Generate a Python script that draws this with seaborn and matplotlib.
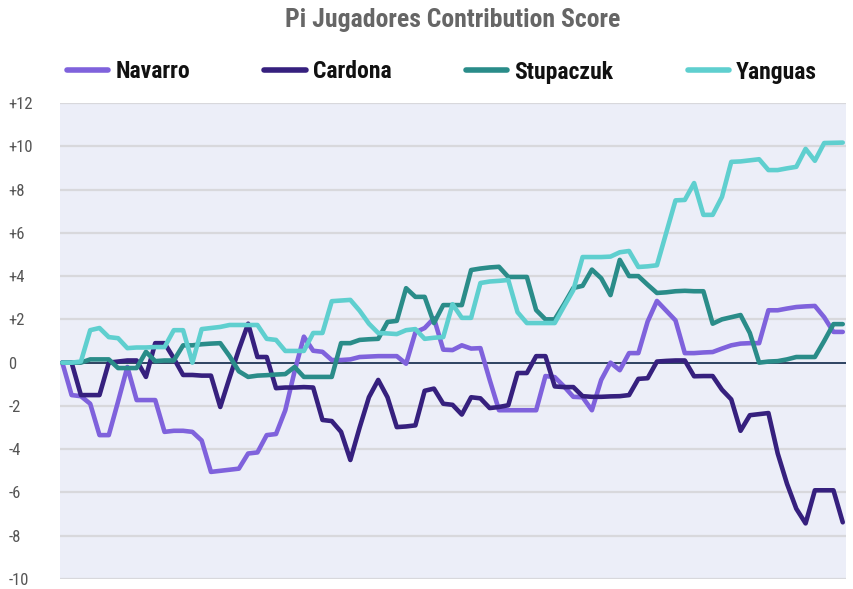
import matplotlib
matplotlib.use("Agg")
import matplotlib.pyplot as plt
import seaborn as sns
import pandas as pd
from matplotlib.lines import Line2D
from matplotlib import font_manager

players = ["Navarro", "Cardona", "Stupaczuk", "Yanguas"]
colors = ["#7F62DC", "#36207E", "#2A8C89", "#5FCFCF"]

navarro = [0, -1.5, -1.55, -1.9, -3.35, -3.35, -1.8, -0.2, -1.73, -1.73,
           -1.73, -3.2, -3.15, -3.15, -3.2, -3.6, -5.05, -5.0, -4.95, -4.9,
           -4.2, -4.15, -3.35, -3.3, -2.2, -0.4, 1.2, 0.55, 0.5, 0.12,
           0.12, 0.15, 0.26, 0.28, 0.3, 0.3, 0.3, -0.05, 1.4, 1.6,
           2.05, 0.6, 0.58, 0.8, 0.65, 0.67, -0.8, -2.2, -2.2, -2.2,
           -2.2, -2.2, -0.62, -0.67, -1.1, -1.58, -1.6, -2.2, -0.8, 0.0,
           -0.35, 0.44, 0.44, 1.9, 2.85, 2.4, 1.95, 0.44, 0.44, 0.47,
           0.49, 0.65, 0.8, 0.88, 0.9, 0.9, 2.42, 2.42, 2.5, 2.57,
           2.6, 2.62, 2.1, 1.42, 1.42]
cardona = [0, 0, -1.5, -1.5, -1.5, 0, 0.05, 0.1, 0.1, -0.66,
           0.9, 0.9, 0.2, -0.57, -0.57, -0.6, -0.6, -2.05, -0.7, 0.6,
           1.8, 0.26, 0.26, -1.18, -1.15, -1.15, -1.13, -1.15, -2.65, -2.7,
           -3.2, -4.5, -3.0, -1.6, -0.8, -1.6, -2.98, -2.95, -2.9, -1.3,
           -1.2, -1.9, -1.95, -2.4, -1.6, -1.65, -2.1, -2.05, -1.97, -0.48,
           -0.48, 0.3, 0.3, -1.1, -1.13, -1.13, -1.55, -1.58, -1.58, -1.56,
           -1.55, -1.5, -0.75, -0.72, 0.05, 0.08, 0.1, 0.1, -0.63, -0.62,
           -0.62, -1.25, -1.7, -3.15, -2.43, -2.38, -2.33, -4.2, -5.6, -6.75,
           -7.43, -5.9, -5.9, -5.9, -7.38]
stupaczuk = [0, 0, 0, 0.15, 0.15, 0.15, -0.25, -0.25, -0.25, 0.5,
             0.07, 0.1, 0.1, 0.8, 0.8, 0.85, 0.88, 0.9, 0.3, -0.4,
             -0.66, -0.6, -0.58, -0.55, -0.53, -0.2, -0.66, -0.66, -0.66, -0.66,
             0.9, 0.9, 1.05, 1.08, 1.1, 1.88, 1.93, 3.44, 3.04, 3.04,
             1.83, 2.66, 2.66, 2.66, 4.28, 4.35, 4.4, 4.43, 3.96, 3.96,
             3.96, 2.43, 2.0, 2.0, 2.7, 3.45, 3.55, 4.3, 3.9, 3.12,
             4.75, 4.0, 4.0, 3.6, 3.22, 3.25, 3.3, 3.32, 3.3, 3.3,
             1.8, 2.0, 2.1, 2.2, 1.37, 0.0, 0.05, 0.07, 0.15, 0.26,
             0.26, 0.26, 1.0, 1.78, 1.78]
yanguas = [0, 0.0, 0.05, 1.5, 1.6, 1.18, 1.13, 0.67, 0.7, 0.7,
           0.72, 0.72, 1.5, 1.5, 0.0, 1.55, 1.6, 1.65, 1.74, 1.74,
           1.74, 1.74, 1.1, 1.05, 0.54, 0.54, 0.54, 1.37, 1.37, 2.84,
           2.87, 2.9, 2.4, 1.8, 1.37, 1.35, 1.32, 1.5, 1.55, 1.1,
           1.15, 1.18, 2.7, 2.07, 2.07, 3.68, 3.75, 3.78, 3.82, 2.33,
           1.83, 1.83, 1.83, 1.83, 2.6, 3.35, 4.88, 4.88, 4.88, 4.9,
           5.1, 5.16, 4.42, 4.45, 4.5, 6.0, 7.5, 7.52, 8.3, 6.83,
           6.83, 7.66, 9.28, 9.3, 9.35, 9.4, 8.9, 8.9, 8.98, 9.05,
           9.88, 9.33, 10.15, 10.16, 10.17]

yticks = [-10, -8, -6, -4, -2, 0, 2, 4, 6, 8, 10, 12]
ytick_labels = ["-10", "-8", "-6", "-4", "-2", "0", "+2", "+4", "+6", "+8", "+10", "+12"]
title = "Pi Jugadores Contribution Score"

series = [navarro, cardona, stupaczuk, yanguas]
rows = []
for name, vals in zip(players, series):
    for i, v in enumerate(vals):
        rows.append({"game": i, "score": v, "player": name})
df = pd.DataFrame(rows)

sns.set_theme(style="white")
available = {f.name for f in font_manager.fontManager.ttflist}
cond = None
for cand in ["Liberation Sans Narrow", "Roboto Condensed", "Open Sans Condensed", "Roboto"]:
    if cand in available:
        cond = cand
        break
fam = [cond, "DejaVu Sans"] if cond else ["DejaVu Sans"]
plt.rcParams["font.family"] = fam

fig = plt.figure(figsize=(8.54, 5.89), dpi=100)
ax = fig.add_axes([60 / 854, 1 - 579 / 589, 786 / 854, 476 / 589])
ax.set_facecolor("#ECEEF8")

for y in yticks:
    if y == 0:
        ax.axhline(y, color="#1F3556", lw=1.3, zorder=1.5)
    else:
        ax.axhline(y, color="#D8D8DC", lw=1.6, zorder=0.5)

sns.lineplot(data=df, x="game", y="score", hue="player", hue_order=players,
             palette=colors, linewidth=3.3, ax=ax, legend=False, sort=False,
             zorder=2)

ax.set_xlim(-0.25, 84.35)
ax.set_ylim(-10, 12)
ax.set_xticks([])
ax.set_yticks(yticks)
ax.set_yticklabels(ytick_labels)
ax.tick_params(axis="y", length=0, pad=37, labelsize=12, labelcolor="#555555")
for lab in ax.get_yticklabels():
    lab.set_ha("left")
for s in ax.spines.values():
    s.set_visible(False)
ax.set_xlabel("")
ax.set_ylabel("")

fig.text(453 / 854, 1 - 20 / 589, title, ha="center", va="center",
         fontsize=18.5, fontweight="bold", color="#666666")

handles = [Line2D([0], [0], color=c, lw=4.0, solid_capstyle="round") for c in colors]
fig.legend(handles, players, ncol=4, loc="center", bbox_to_anchor=(442 / 854, 1 - 72 / 589),
           frameon=False, prop={"size": 17, "weight": "bold"}, handlelength=1.75,
           handletextpad=0.3, columnspacing=3.15, labelcolor="#111111")

fig.savefig("out.png", dpi=100)
